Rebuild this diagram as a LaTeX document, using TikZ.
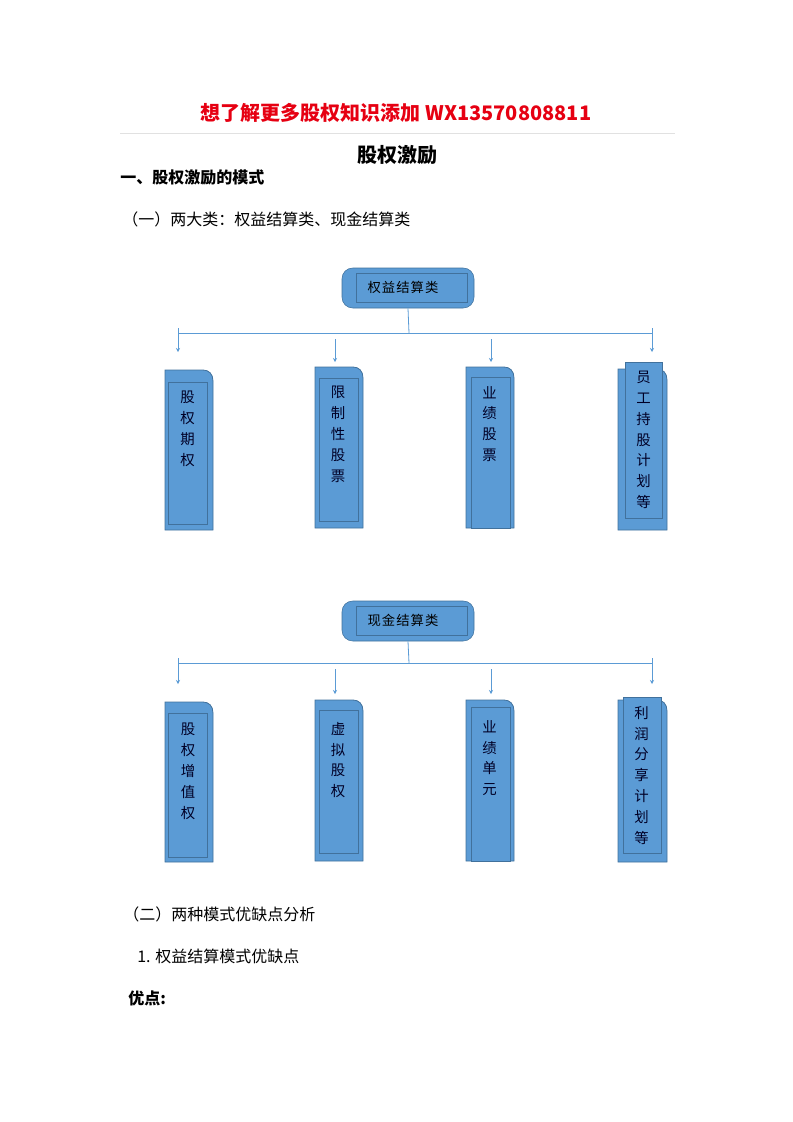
\documentclass[tikz,border=0pt]{standalone}
\usepackage{fontspec}
\setmainfont{Noto Sans CJK SC}
\usetikzlibrary{arrows.meta}
\definecolor{boxblue}{RGB}{91,155,213}
\definecolor{boxline}{RGB}{65,113,156}
\definecolor{titlered}{RGB}{230,0,18}
\definecolor{rulegray}{RGB}{225,225,225}

\begin{document}
\begin{tikzpicture}[x=0.75pt, y=-0.75pt,
    head/.style = {anchor=west, inner sep=0pt, font=\fontsize{12}{14}\selectfont},
    cat/.style = {draw=boxline, fill=boxblue, rounded corners=8pt, minimum width=99pt, minimum height=30pt, inner sep=0pt},
    catin/.style = {draw=boxline, line width=0.4pt, minimum width=83pt, minimum height=22pt, inner sep=0pt},
    cattext/.style = {inner sep=0pt, font=\fontsize{10}{12}\selectfont\addfontfeatures{LetterSpace=8}},
    colback/.style = {draw=boxline, fill=boxblue, line width=0.6pt},
    colin/.style = {draw=boxline, fill=boxblue, line width=0.4pt, minimum width=29pt, inner sep=0pt},
    coltext/.style = {anchor=north, inner sep=0pt, align=center, text=black!85!blue, font=\fontsize{10.8}{15.6}\selectfont},
    link/.style = {draw=boxblue, line width=0.6pt},
    arr/.style = {link, -{Stealth[length=3pt, width=3pt]}}]
\useasboundingbox (0,0) rectangle (793,1122);

% page heading
\node[inner sep=0pt, text=titlered, font=\fontsize{15}{17}\bfseries] (ad) at (396,113) {想了解更多股权知识添加 WX13570808811};
\coordinate (ruleL) at (120,133);
\coordinate (ruleR) at (675,133);
\draw[rulegray, line width=0.5pt] (ruleL) -- (ruleR);
\node[inner sep=0pt, font=\fontsize{15}{17}\bfseries] (title) at (397,155) {股权激励};
\node[head, font=\fontsize{12}{14}\bfseries] (sec1) at (120,177) {一、股权激励的模式};
\node[head] (sub1) at (122,219) {（一）两大类：权益结算类、现金结算类};

% equity-settled tree
\node[cat] (eq) at (408,288) {};
\node[catin] (eqin) at (411.5,287.5) {};
\node[cattext] (eqtext) at (403,287) {权益结算类};
\coordinate (eqmid) at (409,333);
\coordinate (eqL) at (178,333);
\coordinate (eqR) at (652,333);
\draw[link] (eq.south) -- (eqmid);
\draw[link] (eqL) -- (eqR);
\coordinate (a1s) at (178,328); \coordinate (a1e) at (178,352);
\coordinate (a2s) at (335,339); \coordinate (a2e) at (335,362);
\coordinate (a3s) at (491,339); \coordinate (a3e) at (491,362);
\coordinate (a4s) at (652,328); \coordinate (a4e) at (652,352);
\draw[arr] (a1s) -- (a1e);
\draw[arr] (a2s) -- (a2e);
\draw[arr] (a3s) -- (a3e);
\draw[arr] (a4s) -- (a4e);

\filldraw[colback] (165,530) -- (165,370) -- (203,370) .. controls (209,370) and (213,374) .. (213,381) -- (213,530) -- cycle;
\node[colin, minimum height=106.5pt] (c1) at (187.5,453) {};
\node[coltext] (c1t) at (187.5,391) {股\\权\\期\\权};

\filldraw[colback] (315,528) -- (315,367) -- (353,367) .. controls (359,367) and (363,371) .. (363,378) -- (363,528) -- cycle;
\node[colin, minimum height=107pt] (c2) at (338.5,449.5) {};
\node[coltext] (c2t) at (338,386) {限\\制\\性\\股\\票};

\filldraw[colback] (466,528) -- (466,367) -- (504,367) .. controls (510,367) and (514,371) .. (514,378) -- (514,528) -- cycle;
\node[colin, minimum height=113pt] (c3) at (490.5,452.5) {};
\node[coltext] (c3t) at (489.5,386) {业\\绩\\股\\票};

\filldraw[colback] (618,530) -- (618,369) -- (657,369) .. controls (663,369) and (667,373) .. (667,380) -- (667,530) -- cycle;
\node[colin, minimum width=28pt, minimum height=117pt] (c4) at (643.5,440) {};
\node[coltext] (c4t) at (643.5,371) {员\\工\\持\\股\\计\\划\\等};

% cash-settled tree
\node[cat] (cash) at (408,621) {};
\node[catin] (cashin) at (411.5,620.5) {};
\node[cattext] (cashtext) at (403,620) {现金结算类};
\coordinate (cashmid) at (409,663);
\coordinate (cashL) at (178,663);
\coordinate (cashR) at (652,663);
\draw[link] (cash.south) -- (cashmid);
\draw[link] (cashL) -- (cashR);
\coordinate (b1s) at (178,658); \coordinate (b1e) at (178,684);
\coordinate (b2s) at (335,669); \coordinate (b2e) at (335,694);
\coordinate (b3s) at (491,669); \coordinate (b3e) at (491,694);
\coordinate (b4s) at (652,658); \coordinate (b4e) at (652,684);
\draw[arr] (b1s) -- (b1e);
\draw[arr] (b2s) -- (b2e);
\draw[arr] (b3s) -- (b3e);
\draw[arr] (b4s) -- (b4e);

\filldraw[colback] (165,862) -- (165,702) -- (203,702) .. controls (209,702) and (213,706) .. (213,713) -- (213,862) -- cycle;
\node[colin, minimum height=108pt] (c5) at (187.5,785) {};
\node[coltext] (c5t) at (188,723) {股\\权\\增\\值\\权};

\filldraw[colback] (315,861) -- (315,700) -- (353,700) .. controls (359,700) and (363,704) .. (363,711) -- (363,861) -- cycle;
\node[colin, minimum height=107pt] (c6) at (338.5,781.5) {};
\node[coltext] (c6t) at (338,722) {虚\\拟\\股\\权};

\filldraw[colback] (466,861) -- (466,700) -- (504,700) .. controls (510,700) and (514,704) .. (514,711) -- (514,861) -- cycle;
\node[colin, minimum height=115.5pt] (c7) at (490.5,784.5) {};
\node[coltext] (c7t) at (489.5,720) {业\\绩\\单\\元};

\filldraw[colback] (618,862) -- (618,700) -- (657,700) .. controls (663,700) and (667,704) .. (667,711) -- (667,862) -- cycle;
\node[colin, minimum width=28.5pt, minimum height=117pt] (c8) at (642,775) {};
\node[coltext] (c8t) at (641.5,706) {利\\润\\分\\享\\计\\划\\等};

% text below
\node[head] (sub2) at (123,914) {（二）两种模式优缺点分析};
\node[head] (sub21) at (137,956) {1. 权益结算模式优缺点};
\node[head, font=\fontsize{12}{14}\bfseries] (pro) at (128,998) {优点:};
\end{tikzpicture}
\end{document}
